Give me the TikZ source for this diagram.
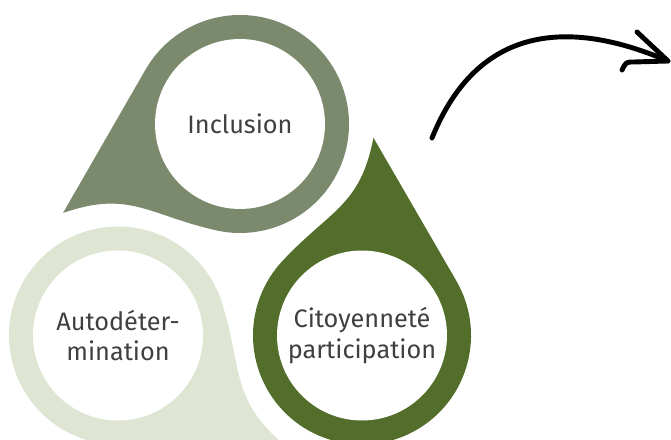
\documentclass[tikz,border=0pt]{standalone}
\usepackage{fontspec}
\setmainfont{Fira Sans}
\usepackage{tikz}
\usetikzlibrary{arrows}

\definecolor{greyGreen}{HTML}{7B896C}
\definecolor{paleGreen}{HTML}{DFE5D3}
\definecolor{darkGreen}{HTML}{536E2A}
\definecolor{textGrey}{HTML}{404040}

\tikzset{
	hole/.style={circle, fill=white, minimum size=3.4cm, inner sep=0pt, align=center,
		text=textGrey, font=\fontsize{14.4}{17.6}\selectfont},
	stroke/.style={line width=2.8pt, line cap=round, line join=round},
}

% drop with its round end at #1, turned by #2, filled with #3
\newcommand{\drop}[3]{%
	\fill[#3, shift={#1}, rotate=#2] (-177,-89) -- (150:109)
		arc[start angle=150, end angle=-103, radius=109]
		.. controls (-92.7,-90.5) and (-111,-66) .. (-177,-89) -- cycle;
}

\begin{document}
\begin{tikzpicture}[x=0.02cm, y=0.02cm]
		\useasboundingbox (0,0) rectangle (671,439);
	
		\drop{(240,315)}{0}{greyGreen}
		\drop{(118,103.5)}{120}{paleGreen}
		\drop{(362,103.5)}{-120}{darkGreen}
		
		\node[hole] (C1) at (240,315) {Inclusion};
		\node[hole] (C2) at (118,103.5) {Autodéter-\\mination};
		\node[hole] (C3) at (362,103.5) {Citoyenneté\\participation};
		
		%\draw (C1) -- (C3);
		\coordinate (A0) at (432,301);
		\coordinate (A1) at (668,378);
		\coordinate (A2) at (637,407);
		\coordinate (A3) at (622,369);
		
		\draw [stroke] (A0) .. controls (478,415) and (570,420) .. (A1);
		\draw [stroke] (A2) -- (A1) -- (634,377) .. controls (626,377) .. (A3);
	\end{tikzpicture}
\end{document}
